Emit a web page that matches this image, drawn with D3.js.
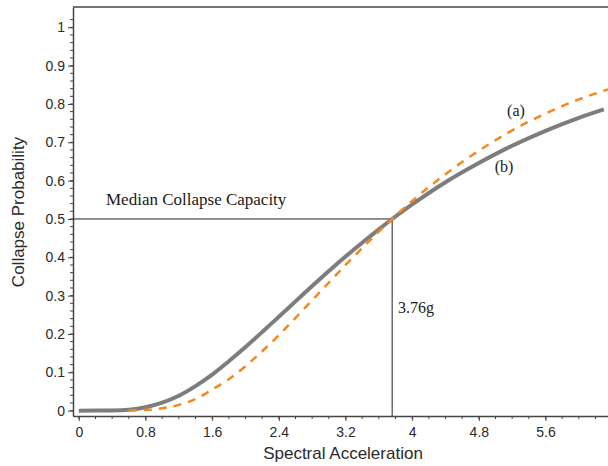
<!DOCTYPE html>
<html>
<head>
<meta charset="utf-8">
<script src="https://cdn.jsdelivr.net/npm/d3@7"></script>
<style>
  body { margin: 0; background: #fff; }
  .tick text { font-family: "Liberation Sans", Arial, sans-serif; font-size: 14px; fill: #2a2a2a; }
  .serif { font-family: "Liberation Serif", "Times New Roman", serif; fill: #1a1a1a; }
  .title { font-family: "Liberation Sans", Arial, sans-serif; font-size: 17px; fill: #2a2a2a; }
</style>
</head>
<body>
<svg id="chart" width="608" height="466"></svg>
<script>
// curve (a): dashed orange
var accelA = [0.6, 0.8, 1.0, 1.2, 1.4, 1.6, 1.8, 2.0, 2.2, 2.4, 2.6, 2.8, 3.0, 3.2, 3.4, 3.6, 3.76, 4.0, 4.4, 4.8, 5.2, 5.6, 6.0, 6.35];
var probA  = [0.0003, 0.0017, 0.006, 0.015, 0.030, 0.055, 0.082, 0.116, 0.155, 0.197, 0.242, 0.288, 0.334, 0.380, 0.424, 0.467, 0.5, 0.547, 0.617, 0.678, 0.731, 0.775, 0.812, 0.838];

// curve (b): solid gray
var accelB = [0, 0.4, 0.6, 0.8, 1.0, 1.2, 1.4, 1.6, 1.8, 2.0, 2.2, 2.4, 2.6, 2.8, 3.0, 3.2, 3.4, 3.6, 3.76, 4.0, 4.4, 4.8, 5.2, 5.6, 6.0, 6.3];
var probB  = [0, 0.0003, 0.0024, 0.009, 0.021, 0.039, 0.064, 0.094, 0.129, 0.166, 0.205, 0.245, 0.285, 0.325, 0.364, 0.402, 0.438, 0.473, 0.5, 0.538, 0.596, 0.646, 0.691, 0.730, 0.764, 0.786];

var xTicks = [0, 0.8, 1.6, 2.4, 3.2, 4, 4.8, 5.6];
var yTicks = [0, 0.1, 0.2, 0.3, 0.4, 0.5, 0.6, 0.7, 0.8, 0.9, 1];
var median = 3.76;

var svg = d3.select("#chart");

var x = d3.scaleLinear().domain([-0.07, 6.35]).range([73, 608]);
var y = d3.scaleLinear().domain([-0.014, 1.053]).range([416, 7]);

// top frame line
svg.append("line")
  .attr("x1", 73).attr("x2", 608).attr("y1", 7).attr("y2", 7)
  .attr("stroke", "#444").attr("stroke-width", 1.5);

// minor ticks
var xMinor = d3.range(0, 6.3, 0.2);
var yMinor = d3.range(0, 1.04, 0.02);

svg.append("g").selectAll("line").data(xMinor).enter().append("line")
  .attr("x1", function(d) { return x(d); }).attr("x2", function(d) { return x(d); })
  .attr("y1", 416).attr("y2", 419)
  .attr("stroke", "#444");

svg.append("g").selectAll("line").data(yMinor).enter().append("line")
  .attr("y1", function(d) { return y(d); }).attr("y2", function(d) { return y(d); })
  .attr("x1", 73).attr("x2", 70)
  .attr("stroke", "#444");

var xAxis = svg.append("g").attr("transform", "translate(0,416)")
  .call(d3.axisBottom(x).tickValues(xTicks).tickSize(5).tickSizeOuter(0)
    .tickFormat(function(d) { return String(d); }));
var yAxis = svg.append("g").attr("transform", "translate(73,0)")
  .call(d3.axisLeft(y).tickValues(yTicks).tickSize(5).tickSizeOuter(0)
    .tickFormat(function(d) { return String(d); }));

[xAxis, yAxis].forEach(function(g) {
  g.select(".domain").attr("stroke", "#444").attr("stroke-width", 1.5);
  g.selectAll(".tick line").attr("stroke", "#444");
});
xAxis.selectAll(".tick text").attr("dy", "0.9em");

// median lines
svg.append("line")
  .attr("x1", 73).attr("x2", x(median))
  .attr("y1", y(0.5)).attr("y2", y(0.5))
  .attr("stroke", "#222").attr("stroke-width", 1);
svg.append("line")
  .attr("x1", x(median)).attr("x2", x(median))
  .attr("y1", y(0.5)).attr("y2", 416)
  .attr("stroke", "#222").attr("stroke-width", 1);

var line = d3.line()
  .x(function(d) { return x(d[0]); })
  .y(function(d) { return y(d[1]); })
  .curve(d3.curveMonotoneX);

svg.append("path")
  .datum(d3.zip(accelB, probB))
  .attr("d", line)
  .attr("fill", "none")
  .attr("stroke", "#7d7d7d")
  .attr("stroke-width", 4);

svg.append("path")
  .datum(d3.zip(accelA, probA))
  .attr("d", line)
  .attr("fill", "none")
  .attr("stroke", "#f5871f")
  .attr("stroke-width", 2.5)
  .attr("stroke-dasharray", "8,7");

// annotations
svg.append("text").attr("class", "serif").attr("x", 106).attr("y", 205)
  .style("font-size", "17px").text("Median Collapse Capacity");
svg.append("text").attr("class", "serif").attr("x", 398).attr("y", 313)
  .style("font-size", "16px").text("3.76g");
svg.append("text").attr("class", "serif").attr("x", 516).attr("y", 116)
  .attr("text-anchor", "middle").style("font-size", "16px").text("(a)");
svg.append("text").attr("class", "serif").attr("x", 504).attr("y", 172)
  .attr("text-anchor", "middle").style("font-size", "16px").text("(b)");

// axis titles
svg.append("text").attr("class", "title")
  .attr("x", 343).attr("y", 459).attr("text-anchor", "middle")
  .text("Spectral Acceleration");
svg.append("text").attr("class", "title")
  .attr("transform", "translate(24,212) rotate(-90)")
  .attr("text-anchor", "middle")
  .text("Collapse Probability");
</script>
</body>
</html>
